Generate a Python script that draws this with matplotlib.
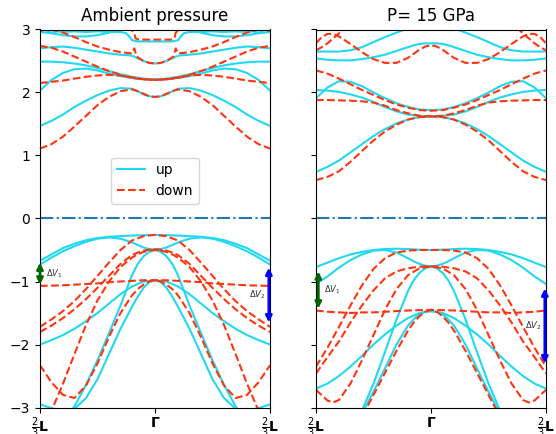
import numpy as np
import matplotlib
matplotlib.use("Agg")
import matplotlib.pyplot as plt

# ---------------- data (half path: 2/3 L -> Gamma, mirrored) ----------------
K = [0.0, 0.1, 0.2, 0.3, 0.4, 0.5, 0.6, 0.7, 0.8, 0.9, 1.0]
KF = [0.0, 0.1, 0.2, 0.3, 0.4, 0.5, 0.6, 0.7, 0.8, 0.85, 0.9, 0.95, 1.0]

# Ambient pressure, spin up
amb_up = {
    "c1": (K, [-0.67, -0.57, -0.47, -0.40, -0.345, -0.31, -0.29, -0.28, -0.27, -0.265, -0.26]),
    "c2": (KF, [-0.73, -0.62, -0.52, -0.44, -0.37, -0.32, -0.30, -0.32, -0.38, -0.42, -0.46, -0.485, -0.49]),
    "c3": (KF, [-3.6, -3.45, -3.25, -2.98, -2.64, -2.25, -1.82, -1.38, -0.90, -0.72, -0.60, -0.53, -0.5]),
    "c4": (KF, [-2.95, -3.01, -3.05, -3.02, -2.85, -2.55, -2.15, -1.75, -1.40, -1.24, -1.10, -1.01, -0.98]),
    "c5": (K, [-2.0, -1.93, -1.85, -1.75, -1.63, -1.50, -1.35, -1.20, -1.08, -1.0, -0.98]),
    "cu1": (KF, [1.47, 1.55, 1.65, 1.77, 1.87, 1.96, 2.03, 2.07, 2.06, 2.02, 1.97, 1.94, 1.93]),
    "cu2": (K, [2.03, 2.2, 2.31, 2.37, 2.38, 2.35, 2.3, 2.26, 2.23, 2.21, 2.2]),
    "cu3": (K, [2.49, 2.49, 2.48, 2.46, 2.43, 2.39, 2.34, 2.29, 2.25, 2.22, 2.21]),
    "cu4": ([0, 0.1, 0.2, 0.3, 0.4, 0.5, 0.6, 0.7, 0.78, 0.82, 0.84, 0.9, 0.95, 1.0],
            [2.70, 2.72, 2.73, 2.71, 2.68, 2.65, 2.62, 2.60, 2.59, 2.57, 2.55, 2.5, 2.47, 2.46]),
    "cu5": ([0, 0.05, 0.1, 0.15, 0.2, 0.3, 0.4, 0.5, 0.6, 0.7, 0.75, 0.78, 0.8, 0.85, 0.9, 1.0],
            [2.97, 2.99, 2.95, 2.97, 2.96, 2.97, 2.96, 2.97, 2.96, 2.96, 2.94, 2.88, 2.83, 2.81, 2.81, 2.81]),
    "cu6": ([0, 0.1, 0.2, 0.3, 0.4, 0.5, 0.6, 0.7, 0.8],
            [2.96, 2.94, 2.91, 2.89, 2.89, 2.91, 2.95, 3.02, 3.1]),
}
# Ambient pressure, spin down
amb_dn = {
    "d1": (K, [-1.72, -1.60, -1.47, -1.31, -1.12, -0.91, -0.70, -0.50, -0.35, -0.28, -0.26]),
    "d2": (KF, [-1.80, -1.70, -1.58, -1.44, -1.28, -1.10, -0.91, -0.72, -0.58, -0.54, -0.51, -0.495, -0.49]),
    "d3": (KF, [-3.45, -3.05, -2.62, -2.15, -1.69, -1.30, -1.0, -0.77, -0.62, -0.57, -0.53, -0.51, -0.5]),
    "d4": (KF, [-2.33, -2.6, -2.8, -2.85, -2.65, -2.3, -1.88, -1.5, -1.22, -1.12, -1.05, -1.0, -0.98]),
    "d5": (K, [-1.07, -1.065, -1.06, -1.05, -1.04, -1.03, -1.01, -1.0, -0.99, -0.98, -0.98]),
    "du1": (KF, [1.11, 1.18, 1.30, 1.46, 1.63, 1.80, 1.93, 2.02, 2.05, 2.02, 1.98, 1.94, 1.93]),
    "du2": (K, [2.15, 2.17, 2.19, 2.22, 2.25, 2.27, 2.28, 2.27, 2.24, 2.21, 2.2]),
    "du3": (K, [2.74, 2.71, 2.65, 2.57, 2.49, 2.41, 2.34, 2.28, 2.23, 2.21, 2.2]),
    "du4": ([0, 0.1, 0.2, 0.3, 0.4, 0.5, 0.6, 0.7, 0.8, 0.82, 0.84, 0.9, 0.95, 1.0],
            [3.05, 3.0, 2.95, 2.88, 2.8, 2.73, 2.68, 2.64, 2.62, 2.70, 2.57, 2.5, 2.47, 2.46]),
    "du5": ([0, 0.1, 0.3, 0.6, 0.78, 0.82, 0.83, 0.86, 0.9, 1.0],
            [2.98, 3.02, 3.1, 3.1, 3.02, 2.95, 2.86, 2.84, 2.84, 2.84]),
}
# 15 GPa, spin up
hp_up = {
    "rc1": (K, [-0.77, -0.70, -0.63, -0.57, -0.53, -0.50, -0.485, -0.48, -0.485, -0.495, -0.5]),
    "rc2": (KF, [-1.04, -0.92, -0.78, -0.66, -0.57, -0.51, -0.50, -0.54, -0.63, -0.68, -0.72, -0.75, -0.76]),
    "rc3": (KF, [-4.4, -4.1, -3.75, -3.38, -3.05, -2.62, -2.12, -1.6, -1.15, -0.98, -0.86, -0.79, -0.76]),
    "rc4": (KF, [-4.3, -4.05, -3.75, -3.42, -3.1, -2.75, -2.38, -2.0, -1.7, -1.6, -1.52, -1.48, -1.47]),
    "rc5": (K, [-2.70, -2.62, -2.5, -2.35, -2.18, -2.0, -1.84, -1.70, -1.58, -1.50, -1.47]),
    "rcu1": (K, [0.74, 0.82, 0.92, 1.05, 1.18, 1.31, 1.42, 1.51, 1.57, 1.61, 1.62]),
    "rcu2": (K, [1.91, 2.08, 2.18, 2.17, 2.1, 2.0, 1.91, 1.83, 1.77, 1.73, 1.72]),
    "rcu3": (K, [2.04, 2.03, 2.01, 1.97, 1.92, 1.85, 1.77, 1.70, 1.65, 1.63, 1.62]),
    "rcu4": (K, [2.65, 2.65, 2.65, 2.67, 2.72, 2.8, 2.88, 2.95, 3.02, 3.08, 3.1]),
    "rcu5": (KF, [2.54, 2.52, 2.51, 2.51, 2.53, 2.56, 2.6, 2.66, 2.72, 2.75, 2.77, 2.78, 2.78]),
}
# 15 GPa, spin down
hp_dn = {
    "rd1": (K, [-2.35, -2.05, -1.72, -1.38, -1.06, -0.80, -0.63, -0.54, -0.51, -0.5, -0.5]),
    "rd2": (K, [-2.46, -2.2, -1.95, -1.65, -1.38, -1.14, -0.95, -0.84, -0.79, -0.765, -0.76]),
    "rd3": ([0, 0.1, 0.15, 0.2, 0.3, 0.4, 0.5, 0.6, 0.7, 0.8, 0.9, 1.0],
            [-2.72, -2.89, -2.92, -2.88, -2.62, -2.25, -1.85, -1.45, -1.12, -0.9, -0.79, -0.76]),
    "rd4": (K, [-1.46, -1.48, -1.49, -1.50, -1.49, -1.49, -1.48, -1.47, -1.46, -1.455, -1.45]),
    "rd5": (KF, [-4.5, -4.2, -3.85, -3.5, -3.15, -2.8, -2.45, -2.1, -1.78, -1.65, -1.55, -1.48, -1.45]),
    "rdu1": (K, [0.61, 0.66, 0.75, 0.90, 1.07, 1.24, 1.38, 1.49, 1.57, 1.61, 1.62]),
    "rdu2": (K, [1.88, 1.88, 1.875, 1.87, 1.86, 1.84, 1.79, 1.72, 1.67, 1.63, 1.62]),
    "rdu3": (K, [2.35, 2.3, 2.22, 2.13, 2.04, 1.96, 1.88, 1.81, 1.76, 1.72, 1.71]),
    "rdu4": ([0, 0.05, 0.1, 0.15, 0.2, 0.3, 0.4, 0.5, 0.6, 0.7, 0.8, 0.9, 0.95, 1.0],
             [2.78, 2.88, 2.93, 2.93, 2.89, 2.77, 2.64, 2.53, 2.47, 2.47, 2.55, 2.68, 2.73, 2.75]),
    "rdu5": ([0, 0.05, 0.1, 0.15, 0.2, 0.25, 0.3],
             [2.67, 2.72, 2.78, 2.86, 2.94, 3.02, 3.1]),
}

# Valence offsets (arrows): (k position, E top, E bottom)
amb_dV1 = (0.0, -0.70, -1.05)
amb_dV2 = (1.99, -0.78, -1.65)
hp_dV1 = (0.02, -0.84, -1.43)
hp_dV2 = (1.99, -1.11, -2.30)

titles = ["Ambient pressure", "P= 15 GPa"]
xtick_labels = [r"$\frac{2}{3}\mathbf{L}$", r"$\mathbf{\Gamma}$", r"$\frac{2}{3}\mathbf{L}$"]

UP_COLOR = "#20d8f2"
DN_COLOR = "#ff3410"


def mirror(k, e):
    k = np.asarray(k, float)
    e = np.asarray(e, float)
    x = np.concatenate([k, (2.0 - k[::-1])[1:]])
    y = np.concatenate([e, e[::-1][1:]])
    return x, y


fig = plt.figure(figsize=(5.56, 4.34), dpi=100)
ax1 = fig.add_axes([40 / 556, 1 - 407.5 / 434, 230 / 556, 378 / 434])
ax2 = fig.add_axes([316 / 556, 1 - 407.5 / 434, 230 / 556, 378 / 434], sharey=ax1)

panels = [(ax1, amb_up, amb_dn, amb_dV1, amb_dV2),
          (ax2, hp_up, hp_dn, hp_dV1, hp_dV2)]

for i, (ax, ups, dns, dv1, dv2) in enumerate(panels):
    first = True
    for name, (k, e) in ups.items():
        x, y = mirror(k, e)
        ax.plot(x, y, color=UP_COLOR, lw=1.5, label="up" if first else None)
        first = False
    first = True
    for name, (k, e) in dns.items():
        x, y = mirror(k, e)
        ax.plot(x, y, color=DN_COLOR, lw=1.5, ls="--", label="down" if first else None)
        first = False
    ax.axhline(0, color="#1f77b4", ls="-.", lw=1.5)

    # arrows
    ax.annotate("", xy=(dv1[0], dv1[1]), xytext=(dv1[0], dv1[2]),
                arrowprops=dict(arrowstyle="<|-|>", color="darkgreen", lw=2,
                                mutation_scale=9, shrinkA=0, shrinkB=0))
    ax.annotate("", xy=(dv2[0], dv2[1]), xytext=(dv2[0], dv2[2]),
                arrowprops=dict(arrowstyle="<|-|>", color="blue", lw=2,
                                mutation_scale=9, shrinkA=0, shrinkB=0))
    ax.text(dv1[0] + 0.05, (dv1[1] + dv1[2]) / 2,
            r"$\Delta V_1$", fontsize=6, ha="left", va="center", color="#333333")
    ax.text(dv2[0] - 0.03, (dv2[1] + dv2[2]) / 2,
            r"$\Delta V_2$", fontsize=6, ha="right", va="center", color="#333333")

    ax.set_xlim(0, 2)
    ax.set_ylim(-3, 3)
    ax.set_xticks([0, 1, 2])
    ax.set_xticklabels(xtick_labels, fontsize=10)
    ax.tick_params(axis="x", pad=2.5)
    ax.set_yticks([-3, -2, -1, 0, 1, 2, 3])
    ax.set_title(titles[i], fontsize=12)

ax1.legend(loc="center", bbox_to_anchor=(0.5, 0.6), fontsize=10)
plt.setp(ax2.get_yticklabels(), visible=False)

fig.savefig("out.png", dpi=100)
